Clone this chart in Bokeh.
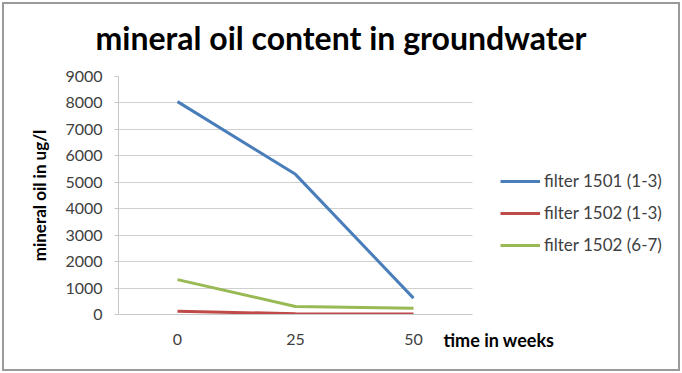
from bokeh.plotting import figure
from bokeh.models import Range1d, FixedTicker, Legend, LegendItem, LinearAxis, BoxAnnotation
from bokeh.embed import file_html
from bokeh.resources import INLINE

weeks = [0, 25, 50]
week_labels = ["0", "25", "50"]
filter_1501_1_3 = [8050, 5300, 620]
filter_1502_1_3 = [120, 30, 20]
filter_1502_6_7 = [1320, 300, 240]
series_names = ["filter 1501 (1-3)", "filter 1502 (1-3)", "filter 1502 (6-7)"]
series_colors = ["#4a7ebb", "#be4b48", "#98b954"]
y_ticks = list(range(0, 9001, 1000))
x_title = "time in weeks"
x_title_pos = 68.1          # centre (in weeks) of the axis title, right of the last tick
plot_x_start, plot_x_end = -12.5, 62.5   # extent of the plotting area (weeks)
frame_x_end = 103.4         # frame continues to the right to hold the legend

FONT = "Lato"

p = figure(width=682, height=373, x_range=Range1d(plot_x_start, frame_x_end),
           y_range=Range1d(0, 9000),
           output_backend="svg", toolbar_location=None,
           min_border_left=118, min_border_right=17, min_border_top=76, min_border_bottom=59)
p.border_fill_alpha = 0
p.styles = {"background-color": "white",
            "box-shadow": "inset 0 0 0 2px white, inset 0 0 0 4px #9a9a9a"}

p.title.text = "mineral oil content in groundwater"
p.title.text_font = FONT
p.title.text_font_size = "32px"
p.title.text_font_style = "bold"
p.title.text_color = "black"
p.title.align = "left"
p.title.offset = -23
p.title.vertical_align = "top"
p.title.standoff = 35

p.outline_line_color = None
p.xgrid.grid_line_color = None
p.ygrid.grid_line_color = "#d0d0d0"
p.ygrid.grid_line_width = 1
p.yaxis.ticker = FixedTicker(ticks=y_ticks)
p.xaxis.ticker = FixedTicker(ticks=weeks)
p.xaxis.major_label_overrides = dict(zip(weeks, week_labels))
p.xaxis.bounds = (plot_x_start, plot_x_end)

# hide gridlines to the right of the plotting area (legend region)
p.add_layout(BoxAnnotation(left=plot_x_end, fill_color="white", fill_alpha=1,
                           line_color=None, level="underlay"))

for ax in (p.xaxis[0], p.yaxis[0]):
    ax.axis_line_color = "#c8c8c8"
    ax.major_tick_line_color = "#c8c8c8"
    ax.minor_tick_line_color = None
    ax.major_label_text_font = FONT
    ax.major_label_text_font_size = "16px"
    ax.major_label_text_color = "#404040"

p.yaxis.major_tick_out = 4
p.yaxis.major_tick_in = 0
p.yaxis.major_label_standoff = 12
p.yaxis.axis_label = "mineral oil in ug/l"
p.yaxis.axis_label_text_font = FONT
p.yaxis.axis_label_text_font_size = "17px"
p.yaxis.axis_label_text_font_style = "bold"
p.yaxis.axis_label_text_color = "black"
p.yaxis.axis_label_standoff = 12

p.xaxis.major_tick_out = 0
p.xaxis.major_tick_in = 0
p.xaxis.major_label_standoff = 19

# second x axis carrying only the axis title, to the right of the last tick
xt_axis = LinearAxis(ticker=FixedTicker(ticks=[x_title_pos]),
                     major_label_overrides={x_title_pos: x_title},
                     axis_line_color=None, major_tick_line_color=None, minor_tick_line_color=None,
                     major_tick_out=0, major_tick_in=0, major_label_standoff=-19,
                     major_label_text_font=FONT, major_label_text_font_size="18px",
                     major_label_text_font_style="bold", major_label_text_color="black")
p.add_layout(xt_axis, "below")

renderers = []
for vals, col in zip([filter_1501_1_3, filter_1502_1_3, filter_1502_6_7], series_colors):
    r = p.line(weeks, vals, line_color=col, line_width=3)
    renderers.append(r)

legend = Legend(items=[LegendItem(label=n, renderers=[r]) for n, r in zip(series_names, renderers)],
                location=(382, 59), border_line_color=None, background_fill_alpha=0,
                padding=0, margin=0, spacing=11, glyph_width=40, glyph_height=20,
                label_height=20, label_standoff=4,
                label_text_font=FONT, label_text_font_size="17px", label_text_color="#404040")
p.add_layout(legend, "center")

open("out.html", "w").write(file_html(p, INLINE))
